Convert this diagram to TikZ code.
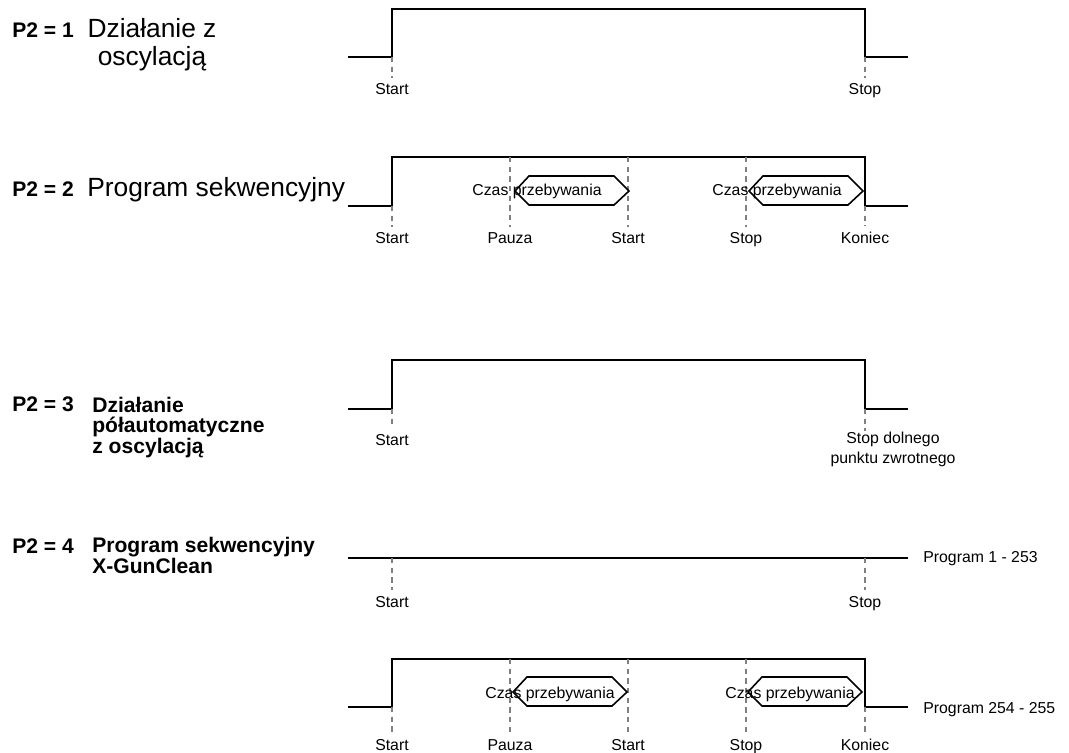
\documentclass[tikz,border=0pt]{standalone}
\usepackage{fontspec}
\setmainfont{Liberation Sans}
\usetikzlibrary{shapes,arrows,positioning}
\tikzstyle{pulse} = [draw, line width=1.6pt, line join=miter]
\tikzstyle{dashln} = [draw, gray, line width=0.6pt, dash pattern=on 3pt off 2.5pt]
\tikzstyle{dwell} = [draw, line width=0.9pt]
\tikzstyle{evt} = [font=\fontsize{9}{11}\selectfont, anchor=base]
\tikzstyle{mode} = [font=\bfseries\fontsize{12}{11.4}\selectfont, anchor=base west, align=left, inner sep=0pt]
\tikzstyle{title} = [font=\fontsize{15}{16}\selectfont, inner sep=0pt]
% hexagon for the dwell time, #1/#2 = left point
\newcommand{\dwellbox}[2]{\draw[dwell] (#1,#2) -- ++(14,-15) -- ++(85,0) -- ++(15,15) -- ++(-15,14) -- ++(-85,0) -- cycle;}

\begin{document}
\begin{tikzpicture}[x=0.02cm, y=-0.02cm]
        \useasboundingbox (0,0) rectangle (1069,753);

        % P2 = 1 (multi-line nodes sit on the baseline of their last line)
        \node (m1) [mode] at (12,38) {P2 = 1};
        \node (t1) [title, anchor=base, align=center] at (152,66) {Działanie z\\oscylacją};
        \draw [pulse] (348,57) -| (392,9) -| (865,57) -- (908,57);
        \node (s11) [evt] at (392,95) {Start};
        \node (s12) [evt] at (865,95) {Stop};
        \draw [dashln] (392,57) -- (s11.north);
        \draw [dashln] (865,57) -- (s12.north);

        % P2 = 2
        \node (m2) [mode] at (12,197) {P2 = 2};
        \node (t2) [title, anchor=base west] at (87,197) {Program sekwencyjny};
        \draw [pulse] (348,206) -| (392,157) -| (865,206) -- (908,206);
        \node (s21) [evt] at (392,244) {Start};
        \node (s22) [evt] at (510,244) {Pauza};
        \node (s23) [evt] at (628,244) {Start};
        \node (s24) [evt] at (746,244) {Stop};
        \node (s25) [evt] at (865,244) {Koniec};
        \draw [dashln] (392,206) -- (s21.north);
        \draw [dashln] (510,157) -- (s22.north);
        \draw [dashln] (628,157) -- (s23.north);
        \draw [dashln] (746,157) -- (s24.north);
        \draw [dashln] (865,206) -- (s25.north);
        \dwellbox{515}{191}
        \dwellbox{749}{191}
        \node (d21) [evt] at (537,196) {Czas przebywania};
        \node (d22) [evt] at (777,196) {Czas przebywania};

        % P2 = 3
        \node (m3) [mode] at (12,412) {P2 = 3};
        \node (t3) [mode] at (92,453) {Działanie\\półautomatyczne\\z oscylacją};
        \draw [pulse] (348,409) -| (392,360) -| (865,409) -- (908,409);
        \node (s31) [evt] at (392,445) {Start};
        \node (s32) [evt, align=center] at (893,463) {Stop dolnego\\punktu zwrotnego};
        \draw [dashln] (392,409) -- (s31.north);
        \draw [dashln] (865,409) -- (865,431);

        % P2 = 4
        \node (m4) [mode] at (12,553) {P2 = 4};
        \node (t4) [mode] at (92,573) {Program sekwencyjny\\X-GunClean};
        \draw [pulse] (348,558) -- (908,558);
        \node (p1) [evt, anchor=base west, inner sep=0pt] at (923,562) {Program 1 - 253};
        \node (s41) [evt] at (392,607) {Start};
        \node (s42) [evt] at (865,607) {Stop};
        \draw [dashln] (392,558) -- (s41.north);
        \draw [dashln] (865,558) -- (s42.north);

        \draw [pulse] (348,707) -| (392,659) -| (865,707) -- (908,707);
        \node (p2) [evt, anchor=base west, inner sep=0pt] at (923,713) {Program 254 - 255};
        \node (s51) [evt] at (392,750) {Start};
        \node (s52) [evt] at (510,750) {Pauza};
        \node (s53) [evt] at (628,750) {Start};
        \node (s54) [evt] at (746,750) {Stop};
        \node (s55) [evt] at (865,750) {Koniec};
        \draw [dashln] (392,707) -- (s51.north);
        \draw [dashln] (510,659) -- (s52.north);
        \draw [dashln] (628,659) -- (s53.north);
        \draw [dashln] (746,659) -- (s54.north);
        \draw [dashln] (865,707) -- (s55.north);
        \dwellbox{513}{692}
        \dwellbox{748}{692}
        \node (d51) [evt] at (550,698) {Czas przebywania};
        \node (d52) [evt] at (790,698) {Czas przebywania};

    \end{tikzpicture}
\end{document}
